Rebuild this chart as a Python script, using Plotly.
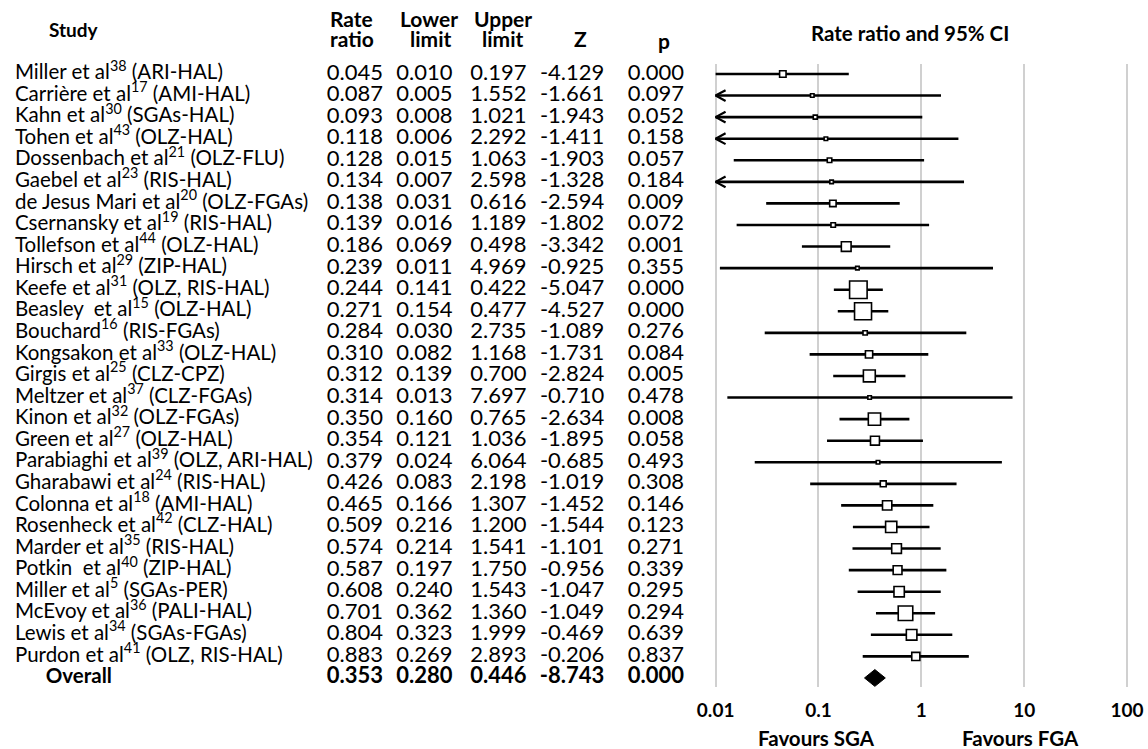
import math
import plotly.graph_objects as go

# ---------------- data ----------------
studies = [
    "Miller et al<sup>38</sup> (ARI-HAL)",
    "Carrière et al<sup>17</sup> (AMI-HAL)",
    "Kahn et al<sup>30</sup> (SGAs-HAL)",
    "Tohen et al<sup>43</sup> (OLZ-HAL)",
    "Dossenbach et al<sup>21</sup> (OLZ-FLU)",
    "Gaebel et al<sup>23</sup> (RIS-HAL)",
    "de Jesus Mari et al<sup>20</sup> (OLZ-FGAs)",
    "Csernansky et al<sup>19</sup> (RIS-HAL)",
    "Tollefson et al<sup>44</sup> (OLZ-HAL)",
    "Hirsch et al<sup>29</sup> (ZIP-HAL)",
    "Keefe et al<sup>31</sup> (OLZ, RIS-HAL)",
    "Beasley  et al<sup>15</sup> (OLZ-HAL)",
    "Bouchard<sup>16</sup> (RIS-FGAs)",
    "Kongsakon et al<sup>33</sup> (OLZ-HAL)",
    "Girgis et al<sup>25</sup> (CLZ-CPZ)",
    "Meltzer et al<sup>37</sup> (CLZ-FGAs)",
    "Kinon et al<sup>32</sup> (OLZ-FGAs)",
    "Green et al<sup>27</sup> (OLZ-HAL)",
    "Parabiaghi et al<sup>39</sup> (OLZ, ARI-HAL)",
    "Gharabawi et al<sup>24</sup> (RIS-HAL)",
    "Colonna et al<sup>18</sup> (AMI-HAL)",
    "Rosenheck et al<sup>42</sup> (CLZ-HAL)",
    "Marder et al<sup>35</sup> (RIS-HAL)",
    "Potkin  et al<sup>40</sup> (ZIP-HAL)",
    "Miller et al<sup>5</sup> (SGAs-PER)",
    "McEvoy et al<sup>36</sup> (PALI-HAL)",
    "Lewis et al<sup>34</sup> (SGAs-FGAs)",
    "Purdon et al<sup>41</sup> (OLZ, RIS-HAL)",
]
rate_ratio = [0.045, 0.087, 0.093, 0.118, 0.128, 0.134, 0.138, 0.139, 0.186, 0.239,
              0.244, 0.271, 0.284, 0.310, 0.312, 0.314, 0.350, 0.354, 0.379, 0.426,
              0.465, 0.509, 0.574, 0.587, 0.608, 0.701, 0.804, 0.883]
lower_limit = [0.010, 0.005, 0.008, 0.006, 0.015, 0.007, 0.031, 0.016, 0.069, 0.011,
               0.141, 0.154, 0.030, 0.082, 0.139, 0.013, 0.160, 0.121, 0.024, 0.083,
               0.166, 0.216, 0.214, 0.197, 0.240, 0.362, 0.323, 0.269]
upper_limit = [0.197, 1.552, 1.021, 2.292, 1.063, 2.598, 0.616, 1.189, 0.498, 4.969,
               0.422, 0.477, 2.735, 1.168, 0.700, 7.697, 0.765, 1.036, 6.064, 2.198,
               1.307, 1.200, 1.541, 1.750, 1.543, 1.360, 1.999, 2.893]
z_value = [-4.129, -1.661, -1.943, -1.411, -1.903, -1.328, -2.594, -1.802, -3.342, -0.925,
           -5.047, -4.527, -1.089, -1.731, -2.824, -0.710, -2.634, -1.895, -0.685, -1.019,
           -1.452, -1.544, -1.101, -0.956, -1.047, -1.049, -0.469, -0.206]
p_value = [0.000, 0.097, 0.052, 0.158, 0.057, 0.184, 0.009, 0.072, 0.001, 0.355,
           0.000, 0.000, 0.276, 0.084, 0.005, 0.478, 0.008, 0.058, 0.493, 0.308,
           0.146, 0.123, 0.271, 0.339, 0.295, 0.294, 0.639, 0.837]

overall_label = "Overall"
overall_rr, overall_lo, overall_hi, overall_z, overall_p = 0.353, 0.280, 0.446, -8.743, 0.000

tick_vals = [0.01, 0.1, 1, 10, 100]
tick_text = ["0.01", "0.1", "1", "10", "100"]

# ---------------- geometry helpers ----------------
W, H = 1148, 749
FONT = "Lato"
n = len(studies)
rows = list(range(n))
overall_row = n
XMIN = tick_vals[0]

def px(x):
    return x / W

def py(y):
    return 1 - y / H

row0_px, row_step = 74.0, 21.57
top_px, bot_px = 64.0, 687.0
y_top = (top_px - row0_px) / row_step
y_bot = (bot_px - row0_px) / row_step
dec_px = 103.5
x001_px = 717.0
xr = [-2.15, 2.12]
dom_l = (x001_px + (xr[0] + 2) * dec_px) / W
dom_r = (x001_px + (xr[1] + 2) * dec_px) / W

fig = go.Figure()

# ---------------- CI lines ----------------
lx, ly = [], []
cx, cy = [], []
for i in rows:
    lo = max(lower_limit[i], XMIN)
    lx += [lo, upper_limit[i], None]
    ly += [i, i, None]
    if lower_limit[i] < XMIN:
        k = 10 ** (10 / dec_px)
        cx += [XMIN * k, XMIN, XMIN * k, None]
        cy += [i - 0.25, i, i + 0.25, None]

fig.add_trace(go.Scatter(x=lx, y=ly, mode="lines",
                         line=dict(color="black", width=2.6), hoverinfo="skip"))
fig.add_trace(go.Scatter(x=cx, y=cy, mode="lines",
                         line=dict(color="black", width=2.2), hoverinfo="skip"))

# ---------------- boxes (size ~ sqrt of inverse-variance weight) ----------------
sizes = []
for i in rows:
    se = (math.log(upper_limit[i]) - math.log(lower_limit[i])) / (2 * 1.96)
    w = 1 / se ** 2
    sizes.append(max(3.5, 4.9 * math.sqrt(w)))

fig.add_trace(go.Scatter(x=rate_ratio, y=rows, mode="markers", opacity=1,
                         marker=dict(symbol="square", size=sizes, color="#ffffff",
                                     opacity=1,
                                     line=dict(color="black", width=1.6)),
                         hoverinfo="skip"))

# ---------------- overall diamond ----------------
dh = 0.39
fig.add_trace(go.Scatter(
    x=[overall_lo, overall_rr, overall_hi, overall_rr, overall_lo],
    y=[overall_row, overall_row - dh, overall_row, overall_row + dh, overall_row],
    mode="lines", fill="toself", fillcolor="black",
    line=dict(color="black", width=1), hoverinfo="skip"))

# ---------------- table (text on a pixel-scaled helper axis) ----------------
col_name_x = 12
col_name_overall_x = 43
col_rr_x, col_lo_x, col_hi_x, col_z_x, col_p_x = 354, 424, 498.5, 605, 657

def fmt(v):
    return f"{v:.3f}"

tf_name = dict(family=FONT, size=20.5, color="black")
tf_num = dict(family=FONT, size=22, color="black")
fig.add_trace(go.Scatter(x=[col_name_x] * n, y=rows, mode="text", text=studies,
                         textposition="middle right", textfont=tf_name,
                         xaxis="x2", cliponaxis=False, hoverinfo="skip"))
for cxp, vals in [(col_rr_x, rate_ratio), (col_lo_x, lower_limit),
                  (col_hi_x, upper_limit), (col_p_x, p_value)]:
    fig.add_trace(go.Scatter(x=[cxp] * n, y=rows, mode="text",
                             text=[fmt(v) for v in vals],
                             textposition="middle center", textfont=tf_num,
                             xaxis="x2", cliponaxis=False, hoverinfo="skip"))
fig.add_trace(go.Scatter(x=[col_z_x] * n, y=rows, mode="text",
                         text=[fmt(v) for v in z_value],
                         textposition="middle left", textfont=tf_num,
                         xaxis="x2", cliponaxis=False, hoverinfo="skip"))

tfb_name = dict(family=FONT, size=20.5, color="black", weight="bold")
tfb_num = dict(family=FONT, size=22, color="black", weight="bold")
fig.add_trace(go.Scatter(x=[col_name_overall_x], y=[overall_row], mode="text",
                         text=[overall_label], textposition="middle right", textfont=tfb_name,
                         xaxis="x2", cliponaxis=False, hoverinfo="skip"))
fig.add_trace(go.Scatter(x=[col_rr_x, col_lo_x, col_hi_x, col_p_x],
                         y=[overall_row] * 4, mode="text",
                         text=[fmt(overall_rr), fmt(overall_lo), fmt(overall_hi), fmt(overall_p)],
                         textposition="middle center", textfont=tfb_num,
                         xaxis="x2", cliponaxis=False, hoverinfo="skip"))
fig.add_trace(go.Scatter(x=[col_z_x], y=[overall_row], mode="text",
                         text=[fmt(overall_z)], textposition="middle left", textfont=tfb_num,
                         xaxis="x2", cliponaxis=False, hoverinfo="skip"))

# ---------------- headers & labels ----------------
ann = []
def header(text, x, y, size=20, xanchor="center"):
    ann.append(dict(text=f"<b>{text}</b>", x=px(x), y=py(y), xref="paper", yref="paper",
                    xanchor=xanchor, yanchor="middle", showarrow=False,
                    font=dict(family=FONT, size=size, color="black")))

header("Study", 71, 29, size=19)
header("Rate", 351, 19, size=21)
header("ratio", 351, 39, size=21)
header("Lower", 429, 19, size=21)
header("limit", 430, 39, size=21)
header("Upper", 503, 19, size=21)
header("limit", 503, 39, size=21)
header("Z", 581, 39, size=21)
header("p", 665, 41, size=21)
header("Rate ratio and 95% CI", 913, 33, size=20.5)
header("Favours SGA", 818, 738, size=20.5)
header("Favours FGA", 1024, 738, size=20.5)

fig.update_layout(
    width=W, height=H,
    margin=dict(l=0, r=0, t=0, b=0),
    paper_bgcolor="white", plot_bgcolor="white",
    showlegend=False,
    annotations=ann,
    xaxis=dict(type="log", range=xr, domain=[dom_l, dom_r],
               tickvals=tick_vals, ticktext=tick_text,
               showgrid=True, gridcolor="#d0d0d0", gridwidth=2,
               showline=False, zeroline=False,
               ticks="outside", ticklen=6, tickcolor="rgba(0,0,0,0)",
               tickfont=dict(family=FONT, size=19, color="black", weight="bold"),
               anchor="y", fixedrange=True),
    xaxis2=dict(range=[0, 0.6 * W], domain=[0, 0.6], visible=False,
                anchor="y", fixedrange=True),
    yaxis=dict(range=[y_bot, y_top], domain=[py(bot_px), py(top_px)],
               visible=False, fixedrange=True),
)

fig.write_html("out.html", config={"displayModeBar": False},
               post_script="document.body.style.margin='0';document.body.style.overflow='hidden';")
